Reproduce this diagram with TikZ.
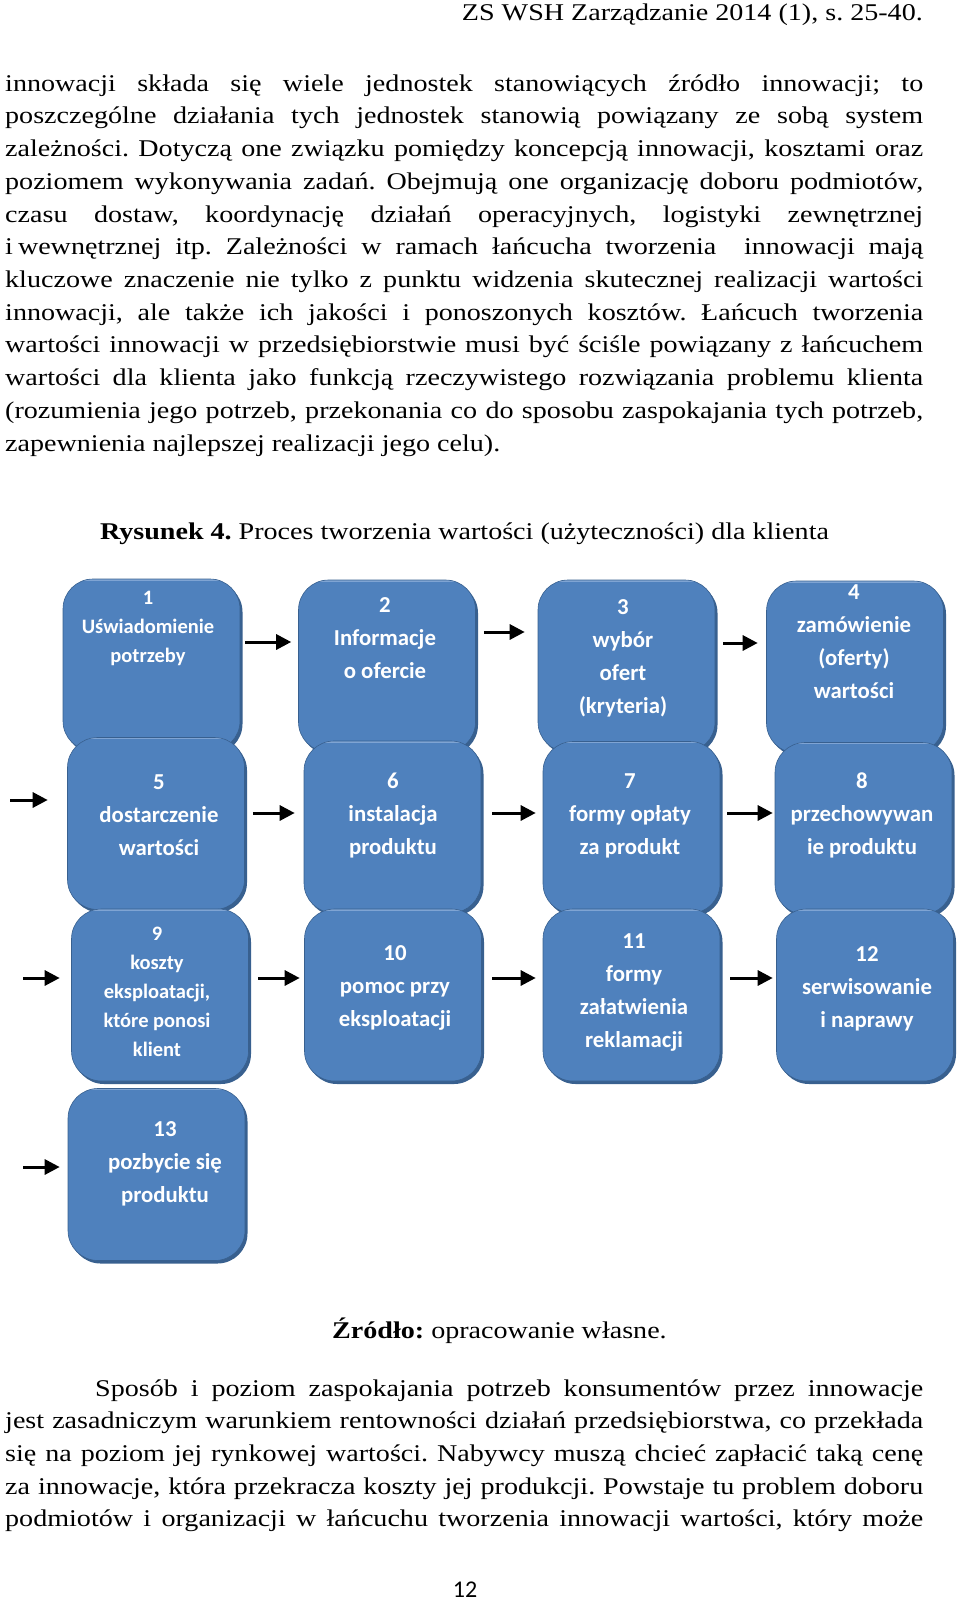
\documentclass[tikz,border=0pt]{standalone}
\usepackage{fontspec}
\setmainfont{Liberation Serif}[FakeStretch=1.17]
\newfontfamily\boxfont{Carlito}
\usetikzlibrary{calc}
\usetikzlibrary{positioning}
\usetikzlibrary{arrows.meta}
\usetikzlibrary{shadows}
\definecolor{boxblue}{HTML}{4F81BD}
\definecolor{boxshade}{HTML}{38608F}
\definecolor{boxlight}{HTML}{7FA4D3}
\tikzstyle{stage} = [rectangle, rounded corners=30pt, minimum width=177pt, minimum height=172pt, fill=boxblue, draw=boxshade, line width=0.6pt, copy shadow={shadow xshift=2.5pt, shadow yshift=-3pt, fill=boxshade, draw=none}, path picture={\draw[boxlight, line width=3pt] (path picture bounding box.north west) -- (path picture bounding box.north east);}]
\tikzstyle{stagetext} = [text=white, align=center, inner sep=0pt, font=\boxfont\bfseries\fontsize{22.8pt}{33pt}\selectfont]
\tikzstyle{stagesmall} = [stagetext, font=\boxfont\bfseries\fontsize{20.5pt}{29pt}\selectfont]
\tikzstyle{flow} = [-{Triangle[length=15pt,width=15pt]}, line width=3pt, shorten <=8pt, shorten >=7pt]
\tikzstyle{bodyline} = [anchor=base west, inner sep=0pt]
\newcommand{\jline}[1]{\makebox[918pt][s]{#1}}
\frenchspacing

\begin{document}
\begin{tikzpicture}[x=1pt, y=-1pt, font=\fontsize{24pt}{32.7pt}\selectfont]
  \useasboundingbox (0,0) rectangle (960,1602);

  \node[anchor=base east, inner sep=0pt] (head) at (923,21) {ZS WSH Zarządzanie 2014 (1), s. 25-40.};

  \foreach \txt [count=\i] in {
    {innowacji składa się wiele jednostek stanowiących źródło innowacji; to},
    {poszczególne działania tych jednostek stanowią powiązany ze sobą system},
    {zależności. Dotyczą one związku pomiędzy koncepcją innowacji, kosztami oraz},
    {poziomem wykonywania zadań. Obejmują one organizację doboru podmiotów,},
    {czasu dostaw, koordynację działań operacyjnych, logistyki zewnętrznej},
    {i\kern5pt wewnętrznej itp. Zależności w ramach łańcucha tworzenia\ \ innowacji mają},
    {kluczowe znaczenie nie tylko z punktu widzenia skutecznej realizacji wartości},
    {innowacji, ale także ich jakości i ponoszonych kosztów. Łańcuch tworzenia},
    {wartości innowacji w przedsiębiorstwie musi być ściśle powiązany z łańcuchem},
    {wartości dla klienta jako funkcją rzeczywistego rozwiązania problemu klienta},
    {(rozumienia jego potrzeb, przekonania co do sposobu zaspokajania tych potrzeb,}}
    \node[bodyline] (p1-\i) at (5,{91.3+32.7*(\i-1)}) {\jline{\txt}};
  \node[bodyline] (p1-12) at (5,451) {zapewnienia najlepszej realizacji jego celu).};

  \node[anchor=base, inner sep=0pt] (caption) at (464.5,539.5) {\textbf{Rysunek 4.} Proces tworzenia wartości (użyteczności) dla klienta};

  % boxes, row by row
  \node[stage] (s1) at (151.5,665) {};
  \node[stage] (s2) at (387,666) {};
  \node[stage] (s3) at (626.5,666) {};
  \node[stage] (s4) at (855,667) {};
  \node[stage] (s5) at (156,823.5) {};
  \node[stage] (s6) at (392.5,827) {};
  \node[stage] (s7) at (631.5,827.5) {};
  \node[stage] (s8) at (863.5,828.5) {};
  \node[stage] (s9) at (160,995) {};
  \node[stage] (s10) at (393,995) {};
  \node[stage] (s11) at (631.5,995) {};
  \node[stage] (s12) at (865,995) {};
  \node[stage] (s13) at (156.5,1174.5) {};

  \node[stagesmall] (t1) at (148,628) {1\\Uświadomienie\\potrzeby};
  \node[stagetext] (t2) at (385,638.5) {2\\Informacje\\o ofercie};
  \node[stagetext] (t3) at (623,658) {3\\wybór\\ofert\\(kryteria)};
  \node[stagetext] (t4) at (854,642) {4\\zamówienie\\(oferty)\\wartości};
  \node[stagetext] (t5) at (159,815) {5\\dostarczenie\\wartości};
  \node[stagetext] (t6) at (393,815.5) {6\\instalacja\\produktu};
  \node[stagetext] (t7) at (630,815.5) {7\\formy opłaty\\za produkt};
  \node[stagetext] (t8) at (862,815.5) {8\\przechowywan\\ie produktu};
  \node[stagesmall] (t9) at (157,992) {9\\koszty\\eksploatacji,\\które ponosi\\klient};
  \node[stagetext] (t10) at (395,987.5) {10\\pomoc przy\\eksploatacji};
  \node[stagetext] (t11) at (634,993) {11\\formy\\załatwienia\\reklamacji};
  \node[stagetext] (t12) at (867,989) {12\\serwisowanie\\i naprawy};
  \node[stagetext] (t13) at (165,1164) {13\\pozbycie się\\produktu};

  % arrows
  \coordinate (in5) at (10,800);
  \coordinate (in9) at (23,978);
  \coordinate (in13) at (23,1167);
  \draw[flow, shorten <=5pt] ([yshift=23pt]s1.east) -- ([yshift=23pt]s1.east -| s2.west);
  \draw[flow, shorten >=13pt] ([yshift=34pt]s2.east) -- ([yshift=34pt]s2.east -| s3.west);
  \draw[flow, shorten >=8.5pt] ([yshift=23pt]s3.east) -- ([yshift=23pt]s3.east -| s4.west);
  \draw[flow, shorten <=0pt, shorten >=19.5pt] (in5) -- (in5 -| s5.west);
  \draw[flow, shorten >=9pt] ([yshift=10.5pt]s5.east) -- ([yshift=10.5pt]s5.east -| s6.west);
  \draw[flow, shorten <=11pt] ([yshift=14pt]s6.east) -- ([yshift=14pt]s6.east -| s7.west);
  \draw[flow, shorten <=7pt, shorten >=2pt] ([yshift=14.5pt]s7.east) -- ([yshift=14.5pt]s7.east -| s8.west);
  \draw[flow, shorten <=0pt, shorten >=11.5pt] (in9) -- (in9 -| s9.west);
  \draw[flow, shorten <=9.5pt, shorten >=4.5pt] ([yshift=17pt]s9.east) -- ([yshift=17pt]s9.east -| s10.west);
  \draw[flow, shorten <=10.5pt] ([yshift=17pt]s10.east) -- ([yshift=17pt]s10.east -| s11.west);
  \draw[flow, shorten <=10pt, shorten >=3.5pt] ([yshift=17pt]s11.east) -- ([yshift=17pt]s11.east -| s12.west);
  \draw[flow, shorten <=0pt, shorten >=8pt] (in13) -- (in13 -| s13.west);

  \node[anchor=base west, inner sep=0pt] (source) at (332,1338) {\textbf{Źródło:} opracowanie własne.};

  \node[bodyline] (p2-1) at (95,1396) {\makebox[828pt][s]{Sposób i poziom zaspokajania potrzeb konsumentów przez innowacje}};
  \foreach \txt [count=\i from 2] in {
    {jest zasadniczym warunkiem rentowności działań przedsiębiorstwa, co przekłada},
    {się na poziom jej rynkowej wartości. Nabywcy muszą chcieć zapłacić taką cenę},
    {za innowacje, która przekracza koszty jej produkcji. Powstaje tu problem doboru},
    {podmiotów i organizacji w łańcuchu tworzenia innowacji wartości, który może}}
    \node[bodyline] (p2-\i) at (5,{1396+32.7*(\i-1)}) {\jline{\txt}};

  \node[anchor=base, inner sep=0pt, font=\boxfont\fontsize{24pt}{28pt}\selectfont] (pagenum) at (465,1597) {12};
\end{tikzpicture}
\end{document}
